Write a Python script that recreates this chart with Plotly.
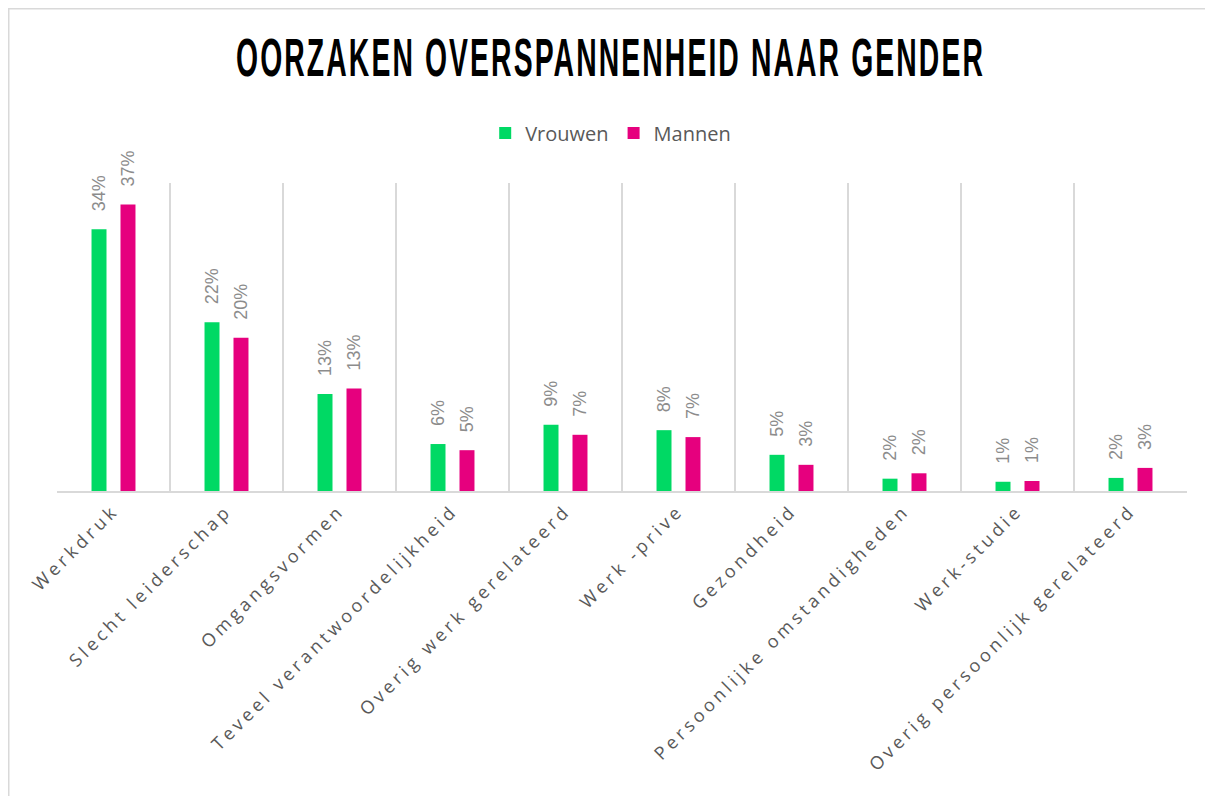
import plotly.graph_objects as go

categories = [
    "Werkdruk",
    "Slecht leiderschap",
    "Omgangsvormen",
    "Teveel verantwoordelijkheid",
    "Overig werk gerelateerd",
    "Werk -prive",
    "Gezondheid",
    "Persoonlijke omstandigheden",
    "Werk-studie",
    "Overig persoonlijk gerelateerd",
]
vrouwen = [0.340, 0.219, 0.126, 0.061, 0.086, 0.079, 0.047, 0.016, 0.012, 0.017]
mannen = [0.372, 0.199, 0.133, 0.053, 0.073, 0.070, 0.034, 0.023, 0.013, 0.030]

GREEN = "#00D964"
MAGENTA = "#E6007E"
GRID = "#D9D9D9"

# page body has an 8px margin, so the figure is 8px smaller than the window
W, H = 1205, 788
ML, MR, MT, MB = 49, 26, 175, 305
plot_w = W - ML - MR
plot_h = H - MT - MB

fig = go.Figure()
for name, values, color in [("Vrouwen", vrouwen, GREEN), ("Mannen", mannen, MAGENTA)]:
    fig.add_trace(
        go.Bar(
            x=categories,
            y=values,
            name=name,
            marker={"color": color, "line": {"width": 0}},
            texttemplate="\u00a0\u00a0\u00a0%{y:.0%}",
            textposition="outside",
            textangle=-90,
            constraintext="none",
            textfont={"family": "Liberation Sans, Arial, sans-serif", "size": 18, "color": "#8C8C8C"},
            cliponaxis=False,
        )
    )

fig.update_layout(
    width=W,
    height=H,
    paper_bgcolor="white",
    plot_bgcolor="white",
    margin={"l": ML, "r": MR, "t": MT, "b": MB},
    barmode="group",
    bargap=0.487,
    bargroupgap=0.483,
    title={
        "text": "OORZAKEN OVERSPANNENHEID NAAR GENDER",
        "xref": "container",
        "x": 0.5,
        "xanchor": "center",
        "yref": "container",
        "y": 1 - 49 / H,
        "yanchor": "middle",
        "font": {"family": "Liberation Sans, Arial, sans-serif", "size": 54,
                 "color": "#000000", "weight": "bold"},
    },
    legend={
        "orientation": "h",
        "x": 0.49,
        "xanchor": "center",
        "y": 1 + 50 / plot_h,
        "yanchor": "middle",
        "font": {"family": "Open Sans, sans-serif", "size": 20, "color": "#595959"},
        "itemwidth": 30,
    },
    xaxis={
        "type": "category",
        "tickson": "boundaries",
        "showgrid": True,
        "gridcolor": GRID,
        "gridwidth": 1.5,
        "showline": True,
        "linecolor": GRID,
        "linewidth": 2,
        "ticks": "",
        "tickangle": -45,
        "tickfont": {"family": "Open Sans, sans-serif", "size": 18, "color": "#595959"},
    },
    yaxis={"visible": False, "range": [0, 0.40], "showgrid": False},
    showlegend=True,
    shapes=[
        {
            "type": "rect",
            "xref": "paper",
            "yref": "paper",
            "x0": (0.5 - ML) / plot_w,
            "x1": 1.05,
            "y0": -1.05,
            "y1": (H - MB - 0.5) / plot_h,
            "line": {"color": GRID, "width": 2},
            "layer": "below",
        }
    ],
)

# spaced-out axis labels and a condensed title, like the original
post = """
var gd = document.getElementById('{plot_id}');
gd.querySelectorAll('.xtick text').forEach(function(t){ t.style.letterSpacing = '3.8px'; });
var tt = gd.querySelector('.gtitle');
if (tt) {
  tt.style.letterSpacing = '4px';
  tt.style.transformBox = 'fill-box';
  tt.style.transformOrigin = 'center';
  tt.style.transform = 'scaleX(0.525)';
}
"""

fig.write_html("out.html", post_script=post)
